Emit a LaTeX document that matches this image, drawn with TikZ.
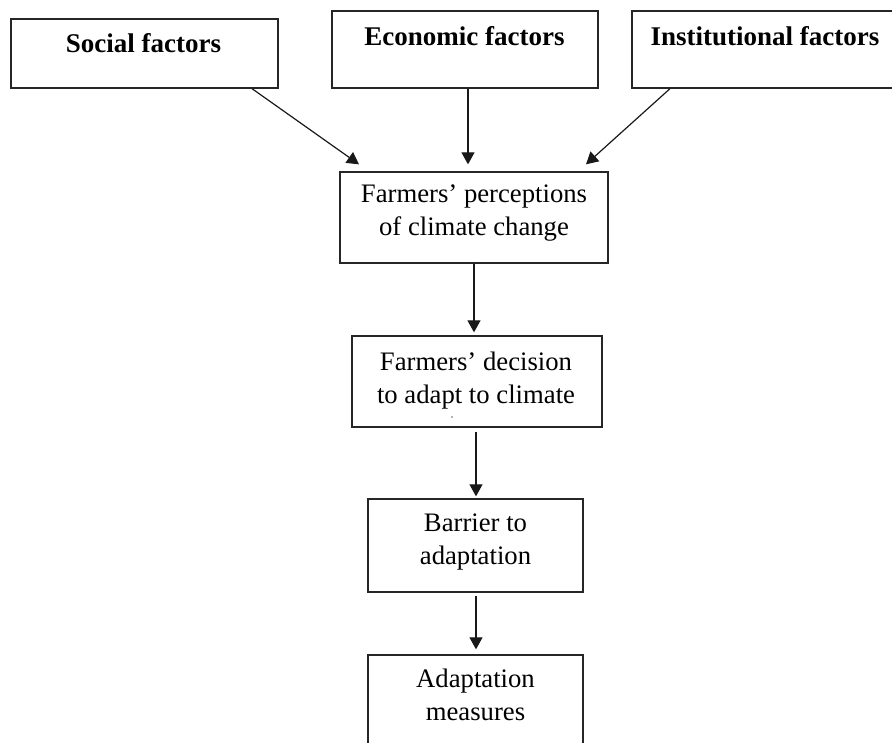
\documentclass[tikz,border=0pt]{standalone}
\usepackage{fontspec}
\setmainfont{Liberation Serif}
\usetikzlibrary{arrows.meta}
\begin{document}
\begin{tikzpicture}[x=1pt,y=-1pt,
  box/.style={draw=black!85,line width=1.3pt,rectangle,inner sep=0pt},
  toptxt/.style={font=\fontsize{27}{33}\selectfont\bfseries,inner sep=0pt,anchor=base},
  txt/.style={font=\fontsize{26.7}{33}\selectfont,align=center,inner sep=0pt},
  arr/.style={draw=black!90,line width=1.2pt,-{Triangle[length=12pt,width=13pt]}}]
\useasboundingbox (0,0) rectangle (892,742);
% boxes
\node[box,minimum width=267pt,minimum height=69pt] (soc) at (144.5,53.5) {};
\node[box,minimum width=266pt,minimum height=77pt] (eco) at (465,49.5) {};
\node[box,minimum width=266pt,minimum height=77pt] (inst) at (765,49.5) {};
\node[box,minimum width=268pt,minimum height=91pt] (perc) at (474,217.5) {};
\node[box,minimum width=250pt,minimum height=91pt] (dec) at (477,381.5) {};
\node[box,minimum width=215pt,minimum height=93pt] (bar) at (475.5,545.5) {};
\node[box,minimum width=215pt,minimum height=97pt] (ada) at (475.5,703.5) {};
% texts
\node[toptxt] (soct) at (143.5,52) {Social factors};
\node[toptxt] (ecot) at (464.5,45) {Economic factors};
\node[toptxt] (instt) at (765,45) {Institutional factors};
\node[txt] (perct) at (474,212.6) {Farmers’ perceptions\\of climate change};
\node[txt] (dect) at (476,380.4) {Farmers’ decision\\to adapt to climate};
\fill[black!60] (452,417) circle (0.9pt);
\node[txt] (bart) at (475.5,542.2) {Barrier to\\adaptation};
\node[txt] (adat) at (475.5,694.4) {Adaptation\\measures};
% connectors
\draw[arr] ([xshift=107.5pt]soc.south) -- ([xshift=-115pt,yshift=7pt]perc.north);
\draw[arr] ([xshift=3pt]eco.south) -- ([xshift=-6pt,yshift=7pt]perc.north);
\draw[arr] ([xshift=-95pt]inst.south) -- ([xshift=112pt,yshift=7pt]perc.north);
\draw[arr] (perc.south) -- ([xshift=-3pt,yshift=3pt]dec.north);
\draw[arr] ([xshift=-1pt,yshift=-4pt]dec.south) -- ([xshift=0.5pt,yshift=2pt]bar.north);
\draw[arr] ([xshift=0.5pt,yshift=-3pt]bar.south) -- ([xshift=0.5pt,yshift=5pt]ada.north);
\end{tikzpicture}
\end{document}
